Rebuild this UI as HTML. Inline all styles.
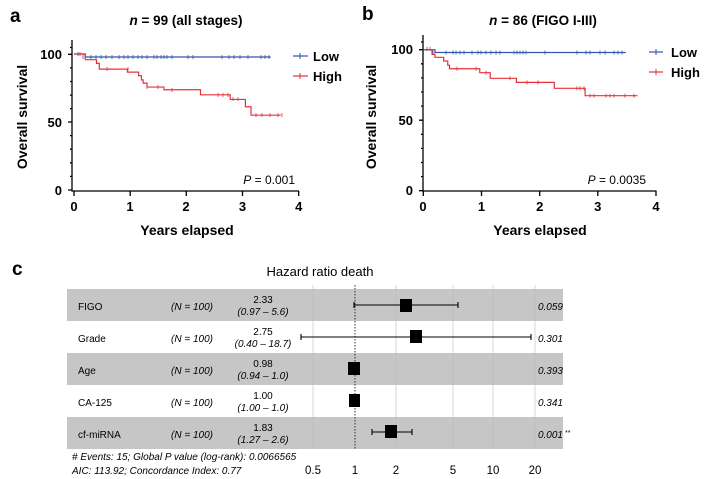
<!DOCTYPE html>
<html><head><meta charset="utf-8"><style>
body{margin:0;background:#fff;}
svg{display:block;font-family:"Liberation Sans",sans-serif;}
.b{font-weight:bold;}
</style></head><body>
<svg width="709" height="479" viewBox="0 0 709 479" xmlns="http://www.w3.org/2000/svg">
<!-- Panel a -->
<text x="10" y="22" font-size="19" class="b">a</text>
<text x="186" y="25" font-size="13.5" class="b" text-anchor="middle"><tspan font-style="italic">n</tspan> = 99 (all stages)</text>
<g stroke="#000" stroke-width="1.3" fill="none">
<path d="M72,40 V191 H299"/>
<path d="M68,54.3 H72 M68,122 H72 M68,190 H72"/>
<path d="M70,67.9H72M70,81.5H72M70,95.1H72M70,108.6H72M70,135.6H72M70,149.2H72M70,162.8H72M70,176.4H72M70,47.5H72"/>
<path d="M74,191V196M130.2,191V196M186.3,191V196M242.5,191V196M298.7,191V196"/>
</g>
<g font-size="13" class="b">
<text x="62" y="59" text-anchor="end">100</text>
<text x="62" y="127" text-anchor="end">50</text>
<text x="62" y="195" text-anchor="end">0</text>
<text x="74" y="211" text-anchor="middle">0</text>
<text x="130" y="211" text-anchor="middle">1</text>
<text x="186" y="211" text-anchor="middle">2</text>
<text x="242.5" y="211" text-anchor="middle">3</text>
<text x="298.7" y="211" text-anchor="middle">4</text>
</g>
<text x="187" y="235" font-size="14" class="b" text-anchor="middle">Years elapsed</text>
<text transform="translate(27,117) rotate(-90)" font-size="14" class="b" text-anchor="middle">Overall survival</text>
<text x="295" y="184" font-size="12" text-anchor="end"><tspan font-style="italic">P</tspan> = 0.001</text>
<g transform="translate(74,190) scale(56.2,-1.36)" fill="none">
<path stroke="#3355aa" stroke-width="1.2" vector-effect="non-scaling-stroke" d="M0,100H0.2V97.8H3.5"/>
<path stroke="#e8303a" stroke-width="1.2" vector-effect="non-scaling-stroke" d="M0,100H0.2V95.8H0.4V93.1H0.45V88.9H0.95V86.7H1.15V84H1.2V81H1.23V78.6H1.3V75.7H1.6V73.7H2.25V70H2.78V66.6H3.05V61.2H3.15V55H3.68"/>
</g>
<g stroke="#3355aa" stroke-width="0.8">
<path d="M78,52v4M83,55v4M91,55v4M96,55v4M101,55v4M106,55v4M112,55v4M119,55v4M124,55v4M128,55v4M133,55v4M138,55v4M142,55v4M147,55v4M154,55v4M157,55v4M161,55v4M164,55v4M167,55v4M172,55v4M188,55v4M193,55v4M222,55v4M229,55v4M234,55v4M240,55v4M248,55v4M261,55v4M265,55v4M269,55v4"/>
</g>
<g stroke="#e8303a" stroke-width="0.8">
<path d="M80,52v4M107,67v4M128,67v4M147,85v4M158,85v4M172,88v4M218,93v4M223,93v4M228,93v4M233,97v4M238,97v4M256,113v4M262,113v4M270,113v4M278,113v4M282,113v4"/>
</g>
<path d="M293,56H308" stroke="#3355aa" stroke-width="1.2"/><path d="M300,53v6" stroke="#3355aa"/>
<path d="M293,76H308" stroke="#e8303a" stroke-width="1.2"/><path d="M300,73v6" stroke="#e8303a"/>
<text x="313" y="61" font-size="13" class="b">Low</text>
<text x="313" y="81" font-size="13" class="b">High</text>

<!-- Panel b -->
<text x="362" y="20" font-size="19" class="b">b</text>
<text x="543" y="25" font-size="13.5" class="b" text-anchor="middle"><tspan font-style="italic">n</tspan> = 86 (FIGO I-III)</text>
<g stroke="#000" stroke-width="1.3" fill="none">
<path d="M423,35 V191 H656.5"/>
<path d="M419,49.7 H423 M419,120.2 H423 M419,190.7 H423"/>
<path d="M421,63.8H423M421,77.9H423M421,92H423M421,106.1H423M421,134.3H423M421,148.4H423M421,162.5H423M421,176.6H423M421,42H423"/>
<path d="M423.3,191V196M481.5,191V196M539.7,191V196M597.8,191V196M656,191V196"/>
</g>
<g font-size="13" class="b">
<text x="413" y="54" text-anchor="end">100</text>
<text x="413" y="125" text-anchor="end">50</text>
<text x="413" y="195" text-anchor="end">0</text>
<text x="423" y="211" text-anchor="middle">0</text>
<text x="481.5" y="211" text-anchor="middle">1</text>
<text x="539.7" y="211" text-anchor="middle">2</text>
<text x="597.8" y="211" text-anchor="middle">3</text>
<text x="656" y="211" text-anchor="middle">4</text>
</g>
<text x="540" y="235" font-size="14" class="b" text-anchor="middle">Years elapsed</text>
<text transform="translate(376,117) rotate(-90)" font-size="14" class="b" text-anchor="middle">Overall survival</text>
<text x="646" y="184" font-size="12" text-anchor="end"><tspan font-style="italic">P</tspan> = 0.0035</text>
<g transform="translate(423.3,190.7) scale(58.2,-1.41)" fill="none">
<path stroke="#3355aa" stroke-width="1.2" vector-effect="non-scaling-stroke" d="M0,100H0.2V98H3.48"/>
<path stroke="#e8303a" stroke-width="1.2" vector-effect="non-scaling-stroke" d="M0,100H0.15V96.7H0.2V94.6H0.35V92H0.42V89H0.45V86.5H0.97V83.7H1.15V79.7H1.6V76.8H2.25V72.6H2.78V67.4H3.68"/>
</g>
<g stroke="#3355aa" stroke-width="0.8">
<path d="M427,47v4M433,50.5v4M446,50.5v4M453,50.5v4M456,50.5v4M460,50.5v4M464,50.5v4M472,50.5v4M478,50.5v4M481,50.5v4M486,50.5v4M491,50.5v4M496,50.5v4M500,50.5v4M514,50.5v4M517,50.5v4M520,50.5v4M523,50.5v4M526,50.5v4M545,50.5v4M577,50.5v4M586,50.5v4M590,50.5v4M600,50.5v4M605,50.5v4M614,50.5v4M618,50.5v4M622,50.5v4"/>
</g>
<g stroke="#e8303a" stroke-width="0.8">
<path d="M430,47v4M457,66.7v4M476,66.7v4M486,70.7v4M510,76.3v4M527,80.4v4M538,80.4v4M577,86.3v4M580,86.3v4M584,86.3v4M590,93.7v4M594,93.7v4M606,93.7v4M610,93.7v4M614,93.7v4M625,93.7v4M634,93.7v4"/>
</g>
<path d="M649,52H663" stroke="#3355aa" stroke-width="1.2"/><path d="M656,49v6" stroke="#3355aa"/>
<path d="M649,72H663" stroke="#e8303a" stroke-width="1.2"/><path d="M656,69v6" stroke="#e8303a"/>
<text x="671" y="57" font-size="13" class="b">Low</text>
<text x="671" y="77" font-size="13" class="b">High</text>

<!-- Panel c -->
<text x="12" y="275" font-size="19" class="b">c</text>
<text x="320" y="276" font-size="13" text-anchor="middle">Hazard ratio death</text>
<g fill="#c6c6c6">
<rect x="67" y="289" width="496" height="32"/>
<rect x="67" y="353" width="496" height="32"/>
<rect x="67" y="417" width="496" height="32"/>
</g>
<g stroke="#bbb" stroke-width="0.6">
<path d="M313,285V449M396,285V449M453,285V449M493,285V449M535,285V449"/>
</g>
<path d="M355,285V449" stroke="#333" stroke-width="1" stroke-dasharray="1.5,1.5"/>
<g font-size="10">
<text x="78" y="310">FIGO</text>
<text x="78" y="342">Grade</text>
<text x="78" y="374">Age</text>
<text x="78" y="406">CA-125</text>
<text x="78" y="438">cf-miRNA</text>
<g font-style="italic">
<text x="171" y="310">(N = 100)</text>
<text x="171" y="342">(N = 100)</text>
<text x="171" y="374">(N = 100)</text>
<text x="171" y="406">(N = 100)</text>
<text x="171" y="438">(N = 100)</text>
</g>
<g text-anchor="middle">
<text x="263" y="303">2.33</text><text x="263" y="315" font-style="italic">(0.97 – 5.6)</text>
<text x="263" y="335">2.75</text><text x="263" y="347" font-style="italic">(0.40 – 18.7)</text>
<text x="263" y="367">0.98</text><text x="263" y="379" font-style="italic">(0.94 – 1.0)</text>
<text x="263" y="399">1.00</text><text x="263" y="411" font-style="italic">(1.00 – 1.0)</text>
<text x="263" y="431">1.83</text><text x="263" y="443" font-style="italic">(1.27 – 2.6)</text>
</g>
<g font-style="italic" text-anchor="end">
<text x="563" y="310">0.059</text>
<text x="563" y="342">0.301</text>
<text x="563" y="374">0.393</text>
<text x="563" y="406">0.341</text>
<text x="563" y="438">0.001</text>
</g>
<text x="565" y="435" font-size="7">**</text>
<g font-style="italic">
<text x="72" y="460">#&#160;Events: 15; Global P value (log-rank): 0.0066565</text>
<text x="72" y="474">AIC: 113.92; Concordance Index: 0.77</text>
</g>
<g font-size="11.5" text-anchor="middle">
<text x="313" y="474">0.5</text><text x="355" y="474">1</text><text x="396" y="474">2</text><text x="453" y="474">5</text><text x="493" y="474">10</text><text x="535" y="474">20</text>
</g>
</g>
<g stroke="#000" stroke-width="1.1">
<path d="M354,305H458M354,302v6M458,302v6"/>
<path d="M301,337H531M301,334v6M531,334v6"/>
<path d="M372,432H412M372,429v6M412,429v6"/>
</g>
<g fill="#000">
<rect x="400" y="299" width="12" height="13"/>
<rect x="410" y="330" width="12" height="13"/>
<rect x="348" y="362" width="12" height="13"/>
<rect x="349" y="394" width="11" height="13"/>
<rect x="385" y="425" width="12" height="13"/>
</g>
</svg>
</body></html>
